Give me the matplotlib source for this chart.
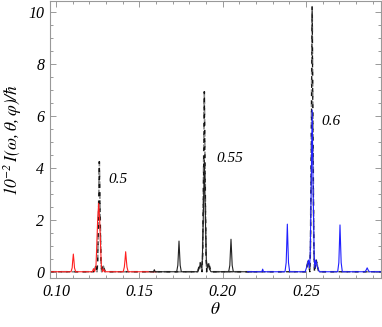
import matplotlib
matplotlib.use("Agg")
import matplotlib.pyplot as plt
from matplotlib.ticker import MultipleLocator

# ---- data ----
theta_red = [0.0964, 0.1090, 0.1097, 0.1100, 0.1104, 0.1108, 0.1111, 0.1118,
             0.1218, 0.1225, 0.1232, 0.1240, 0.1244, 0.1250, 0.1256, 0.1262, 0.1268, 0.1272,
             0.1280, 0.1287, 0.1294, 0.1403, 0.1410, 0.1414, 0.1418, 0.1422, 0.1426, 0.1433, 0.1600]
I_red = [0, 0, 0.15, 0.40, 0.68, 0.40, 0.15, 0,
         0, 0.12, 0, 0.25, 0.90, 2.00, 2.63, 2.00, 0.90, 0.25,
         0, 0.10, 0, 0, 0.18, 0.45, 0.77, 0.45, 0.18, 0, 0]

theta_black = [0.1560, 0.1585, 0.1590, 0.1595, 0.1724, 0.1731, 0.1734, 0.1738, 0.1742, 0.1745, 0.1752,
               0.1850, 0.1858, 0.1866, 0.1872, 0.1878, 0.1884, 0.1890, 0.1896, 0.1902, 0.1908,
               0.1914, 0.1921, 0.1930, 0.2036, 0.2043, 0.2046, 0.2050, 0.2054, 0.2057, 0.2064, 0.2200]
I_black = [0, 0, 0.08, 0, 0, 0.25, 0.65, 1.18, 0.65, 0.25, 0,
           0, 0.12, 0.30, 0.15, 0.45, 2.20, 4.30, 2.20, 0.45, 0.15,
           0.30, 0.10, 0, 0, 0.25, 0.70, 1.25, 0.70, 0.25, 0, 0]

theta_blue = [0.2150, 0.2235, 0.2240, 0.2245, 0.2374, 0.2381, 0.2384, 0.2388, 0.2392, 0.2395, 0.2402,
              0.2495, 0.2505, 0.2515, 0.2521, 0.2525, 0.2531, 0.2537, 0.2543, 0.2549, 0.2553,
              0.2559, 0.2568, 0.2580, 0.2690, 0.2697, 0.2700, 0.2704, 0.2708, 0.2711, 0.2718,
              0.2855, 0.2862, 0.2867, 0.2872, 0.2879, 0.2950]
I_blue = [0, 0, 0.10, 0, 0, 0.35, 0.95, 1.83, 0.95, 0.35, 0,
          0, 0.20, 0.45, 0.15, 0.60, 3.10, 6.22, 3.10, 0.60, 0.15,
          0.45, 0.20, 0, 0, 0.35, 0.95, 1.80, 0.95, 0.35, 0,
          0, 0.08, 0.15, 0.08, 0, 0]

theta_dash = [0.0964, 0.1225, 0.1238, 0.1246, 0.1250, 0.1255, 0.1260, 0.1265, 0.1270, 0.1274, 0.1282, 0.1295,
              0.1850, 0.1865, 0.1876, 0.1880, 0.1885, 0.1890, 0.1895, 0.1900, 0.1904, 0.1915, 0.1930,
              0.2500, 0.2513, 0.2523, 0.2527, 0.2532, 0.2537, 0.2542, 0.2547, 0.2551, 0.2562, 0.2575, 0.2950]
I_dash = [0, 0, 0.20, 0, 0.40, 2.10, 4.23, 2.10, 0.40, 0, 0.25, 0,
          0, 0.35, 0, 0.70, 3.50, 6.92, 3.50, 0.70, 0, 0.35, 0,
          0, 0.45, 0, 1.00, 5.10, 10.19, 5.10, 1.00, 0, 0.45, 0, 0]

series_labels = ["0.5", "0.55", "0.6"]

# ---- figure ----
plt.rcParams['font.family'] = ['Liberation Serif', 'DejaVu Serif']
plt.rcParams['font.style'] = 'italic'
plt.rcParams['mathtext.fontset'] = 'stix'

fig = plt.figure(figsize=(3.82, 3.27), dpi=100)
ax = fig.add_axes([50/382, 1-278/327, 331/382, 277/327])

lw = 0.8
ax.plot(theta_dash, I_dash, color='#888888', lw=1.2, dashes=(4, 2.5))
ax.plot(theta_dash, I_dash, color='#111111', lw=0.9, dashes=(3, 3.5), dash_capstyle='butt')
ax.plot(theta_red, I_red, color='#ff2020', lw=lw)
ax.plot(theta_black, I_black, color='#222222', lw=lw)
ax.plot(theta_blue, I_blue, color='#2020ff', lw=lw)

txt_kw = dict(fontsize=11, style='italic', ha='left', va='center')
ax.text(0.1312, 3.55, series_labels[0], **txt_kw)
ax.text(0.1964, 4.36, series_labels[1], **txt_kw)
ax.text(0.2594, 5.77, series_labels[2], **txt_kw)

ax.set_xlim(0.0964, 0.2950)
ax.set_ylim(-0.24, 10.41)
ax.xaxis.set_major_locator(MultipleLocator(0.05))
ax.xaxis.set_minor_locator(MultipleLocator(0.01))
ax.yaxis.set_major_locator(MultipleLocator(2))
ax.yaxis.set_minor_locator(MultipleLocator(0.5))
ax.xaxis.set_major_formatter(plt.FuncFormatter(lambda v, p: f"{v:.2f}"))
ax.yaxis.set_major_formatter(plt.FuncFormatter(lambda v, p: f"{v:.0f}"))

for s in ax.spines.values():
    s.set_color('#999999')
    s.set_linewidth(0.8)
ax.tick_params(which='both', direction='in', top=True, right=True, color='#999999',
               labelsize=11.5, width=0.7)
ax.tick_params(which='major', length=4.5)
ax.tick_params(which='minor', length=2.5)
ax.tick_params(axis='x', pad=4)
ax.tick_params(axis='y', pad=4)

ax.set_xlabel(r'$\theta$', fontsize=12.5, labelpad=2)
ax.set_ylabel(r'$\mathit{10}^{-2}\,I(\omega,\theta,\varphi)/\hbar$', fontsize=12.5, labelpad=3)

fig.savefig('out.png', dpi=100)
